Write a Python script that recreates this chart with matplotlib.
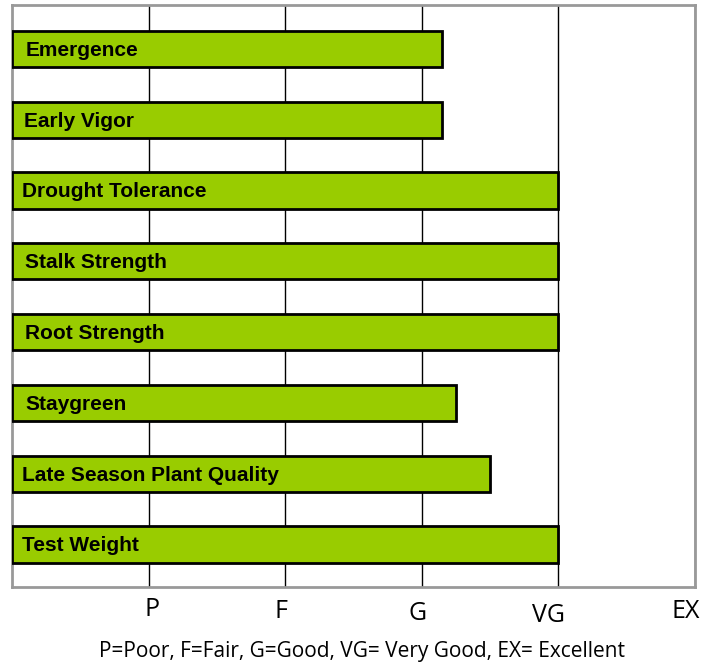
import matplotlib
matplotlib.use("Agg")
import matplotlib.pyplot as plt

categories = ["Emergence", "Early Vigor", "Drought Tolerance", "Stalk Strength",
              "Root Strength", "Staygreen", "Late Season Plant Quality", "Test Weight"]
values = [3.15, 3.15, 4.0, 4.0, 4.0, 3.25, 3.5, 4.0]
tick_labels = ["P", "F", "G", "VG", "EX"]
tick_positions = [1, 2, 3, 4, 5]
caption = "P=Poor, F=Fair, G=Good, VG= Very Good, EX= Excellent"

fig = plt.figure(figsize=(7.12, 6.63), dpi=100)
ax = fig.add_axes([12/712, 1-587/663, 683/712, 582/663])

ys = list(range(len(categories)))
ax.barh(ys, values, height=0.51, color="#99CC00", edgecolor="black", linewidth=2, zorder=3)
label_x = [0.10, 0.085, 0.07, 0.095, 0.095, 0.095, 0.07, 0.07]
for y, c, lx in zip(ys, categories, label_x):
    ax.text(lx, y + 0.02, c, va="center", ha="left", fontsize=15, fontweight="bold",
            family="Liberation Sans", zorder=4)

ax.set_xlim(0, 5)
ax.set_ylim(7.6, -0.62)
ax.set_xticks(tick_positions)
ax.set_xticklabels([])
ax.set_yticks([])
ax.tick_params(axis="x", length=0)
ax.grid(axis="x", color="black", linewidth=1, zorder=0)
for s in ax.spines.values():
    s.set_color("#999999")
    s.set_linewidth(2)

label_px = [(152, 610), (281, 611), (418, 614), (548, 615), (686, 612)]
for lab, (px, py) in zip(tick_labels, label_px):
    fig.text(px/712, 1-py/663, lab, ha="center", va="center", fontsize=18, family="Open Sans")

fig.text(362/712, 1-652/663, caption, ha="center", va="center", fontsize=15, family="Open Sans")

fig.savefig("out.png", dpi=100)
